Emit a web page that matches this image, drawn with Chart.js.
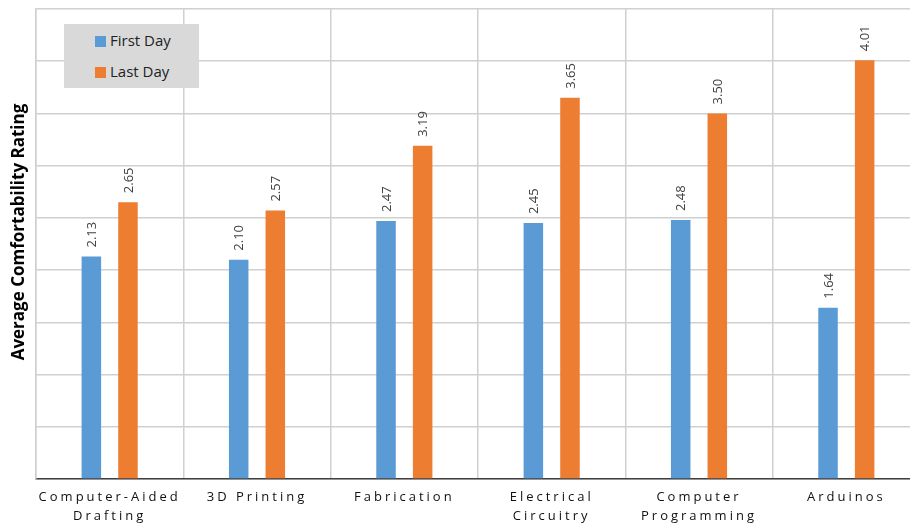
<!DOCTYPE html>
<html>
<head>
<meta charset="utf-8">
<script src="https://cdn.jsdelivr.net/npm/chart.js@4/dist/chart.umd.min.js"></script>
<style>
  html, body { margin: 0; padding: 0; background: #fff; }
  #wrap { position: relative; width: 910px; height: 525px; overflow: hidden; }
  #box { position: absolute; left: 0; top: 0; width: 921px; height: 525px; }
  #legend { position: absolute; left: 64px; top: 24px; width: 135px; height: 64px; background: #d9d9d9;
            font-family: "Open Sans", sans-serif; font-size: 15px; color: #222; }
  .li { position: absolute; left: 31px; height: 20px; line-height: 20px; }
  .sw { display: inline-block; width: 11px; height: 11px; margin-right: 4px; vertical-align: -1px; }
</style>
</head>
<body>
<div id="wrap">
  <div id="box"><canvas id="c" width="921" height="525"></canvas></div>
  <div id="legend"></div>
</div>
<script>
const categories = [
  ['Computer-Aided', 'Drafting'],
  '3D Printing',
  'Fabrication',
  ['Electrical', 'Circuitry'],
  ['Computer', 'Programming'],
  'Arduinos'
];
const seriesNames = ['First Day', 'Last Day'];
const firstDay = [2.13, 2.10, 2.47, 2.45, 2.48, 1.64];
const lastDay = [2.65, 2.57, 3.19, 3.65, 3.50, 4.01];
const colors = ['#5B9BD5', '#ED7D31'];
const yTitle = 'Average Comfortability Rating';

// HTML legend
const lg = document.getElementById('legend');
seriesNames.forEach((n, i) => {
  const d = document.createElement('div');
  d.className = 'li';
  d.style.top = (i === 0 ? 6 : 37) + 'px';
  d.innerHTML = '<span class="sw" style="background:' + colors[i] + '"></span>' + n;
  lg.appendChild(d);
});

const spacingPlugin = {
  id: 'spacing',
  beforeDraw(chart) { chart.ctx.letterSpacing = '3px'; },
  beforeDatasetsDraw(chart) { chart.ctx.letterSpacing = '0px'; }
};

const labelPlugin = {
  id: 'vlabels',
  afterDatasetsDraw(chart) {
    const ctx = chart.ctx;
    ctx.save();
    ctx.letterSpacing = '0px';
    ctx.font = '13px "Open Sans", sans-serif';
    ctx.fillStyle = '#404040';
    ctx.textAlign = 'left';
    ctx.textBaseline = 'middle';
    chart.data.datasets.forEach((ds, di) => {
      chart.getDatasetMeta(di).data.forEach((bar, i) => {
        ctx.save();
        ctx.translate(bar.x + 1, bar.y - 9);
        ctx.rotate(-Math.PI / 2);
        ctx.fillText(ds.data[i].toFixed(2), 0, 0);
        ctx.restore();
      });
    });
    ctx.restore();
  }
};

const titlePlugin = {
  id: 'ytitle',
  afterDraw(chart) {
    const ctx = chart.ctx;
    ctx.save();
    ctx.letterSpacing = '0px';
    ctx.font = 'bold 17px "Open Sans", sans-serif';
    ctx.fillStyle = '#000';
    ctx.textAlign = 'center';
    ctx.textBaseline = 'middle';
    ctx.translate(19, 232);
    ctx.rotate(-Math.PI / 2);
    ctx.fillText(yTitle, 0, 0);
    ctx.restore();
  }
};

new Chart(document.getElementById('c'), {
  type: 'bar',
  data: {
    labels: categories,
    datasets: [
      { label: seriesNames[0], data: firstDay, backgroundColor: colors[0] },
      { label: seriesNames[1], data: lastDay, backgroundColor: colors[1] }
    ]
  },
  options: {
    responsive: false,
    animation: false,
    events: [],
    layout: { padding: { left: 36, top: 9, right: 1, bottom: 0 } },
    datasets: { bar: { categoryPercentage: 0.497, barPercentage: 0.533 } },
    plugins: { legend: { display: false }, tooltip: { enabled: false } },
    scales: {
      x: {
        grid: { color: '#d0d0d0', lineWidth: 1.5, drawTicks: false, offset: true },
        border: { color: '#404040', width: 1.5 },
        ticks: { color: '#111', font: { family: '"Open Sans", sans-serif', size: 13, lineHeight: '19px' }, padding: 9, maxRotation: 0, autoSkip: false },
        afterFit(s) { s.height = 46; }
      },
      y: {
        min: 0, max: 4.5,
        grid: { color: '#d0d0d0', lineWidth: 1.5, drawTicks: false },
        border: { color: '#d0d0d0', width: 1.5 },
        ticks: { display: false, stepSize: 0.5 },
        afterFit(s) { s.width = 0; }
      }
    }
  },
  plugins: [spacingPlugin, labelPlugin, titlePlugin]
});
</script>
</body>
</html>
